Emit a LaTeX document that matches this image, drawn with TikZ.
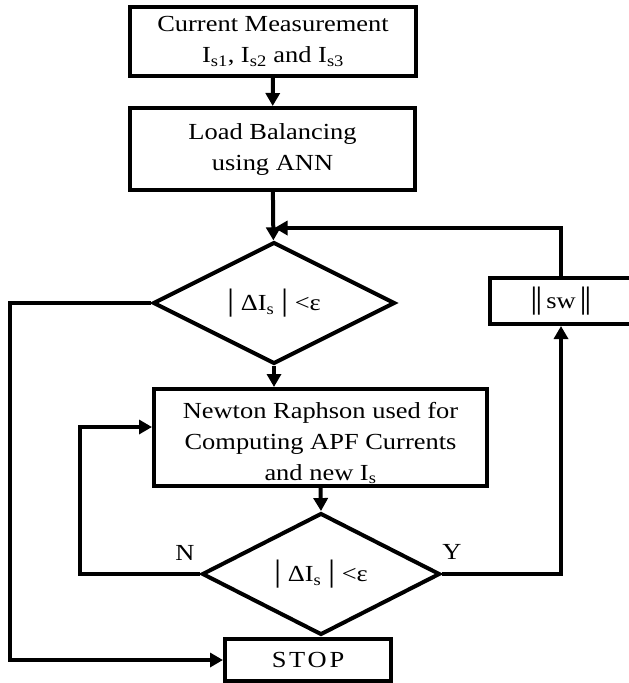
\documentclass[tikz,border=0pt]{standalone}
\usepackage{fontspec}
\setmainfont{Liberation Serif}[FakeStretch=1.15]
\usepackage{tikz}
\usetikzlibrary{arrows.meta}
\usetikzlibrary{shapes.geometric}
\usetikzlibrary{positioning}

\newcommand{\tallbar}{{\fontsize{31}{31}\selectfont|}}
\newcommand{\normbar}{{\fontsize{31}{31}\selectfont|\kern-2.2pt|}}

\tikzset{
  block/.style={draw, line width=4pt, rectangle, align=center, inner sep=0pt},
  decision/.style={draw, line width=4pt, diamond, inner sep=0pt},
  arrow/.style={line width=4pt, -{Triangle[length=13pt,width=14pt]}},
  plain/.style={line width=4pt}
}

\begin{document}
\begin{tikzpicture}[x=1pt, y=-1pt, font=\fontsize{23}{31}\selectfont]
\useasboundingbox (0,0) rectangle (629,683);
\node [block, minimum width=286pt, minimum height=69pt] (meas) at (273, 41.5)
  {Current Measurement\\I\textsubscript{s1}, I\textsubscript{s2} and I\textsubscript{s3}};
\node [block, minimum width=285pt, minimum height=82pt] (bal) at (272.5, 149)
  {Load Balancing\\using ANN};
\node [decision, minimum width=242pt, minimum height=86pt] (chk1) at (274, 303)
  {\tallbar~ΔI\textsubscript{s}~\tallbar~<ε};
\node [block, minimum width=333pt, minimum height=97pt] (newton) at (320.5, 437.5)
  {\rule{0pt}{27pt}Newton Raphson used for\\Computing APF Currents\\and new I\textsubscript{s}};
\node [decision, minimum width=238pt, minimum height=84pt] (chk2) at (321, 574)
  {\tallbar~ΔI\textsubscript{s}~\tallbar~<ε};
\node [block, minimum width=142pt, minimum height=46pt] (sw) at (561, 301)
  {\normbar\,sw\,\normbar};
\node [block, minimum width=166pt, minimum height=42pt] (stop) at (308, 660)
  {\addfontfeature{LetterSpace=12}STOP};
\node (no) at (185, 553) {N};
\node (yes) at (452, 552) {Y};
\coordinate (join) at (272.5, 228);
\coordinate (outL) at (10, 303);
\coordinate (nloop) at (80, 427);
\draw [arrow] (meas) -- (bal);
\draw [arrow] (bal) -- (chk1);
\draw [arrow, shorten >=2pt] (sw.north) |- (join);
\draw [arrow] (chk1.west) -- (outL) |- (stop.west);
\draw [arrow] (chk1.south) -- (chk1.south |- newton.north);
\draw [arrow] (newton.south) -- (chk2.north);
\draw [arrow] (chk2.west) -| (nloop) -- (nloop -| newton.west);
\draw [arrow] (chk2.east) -| (sw.south);
\end{tikzpicture}
\end{document}
